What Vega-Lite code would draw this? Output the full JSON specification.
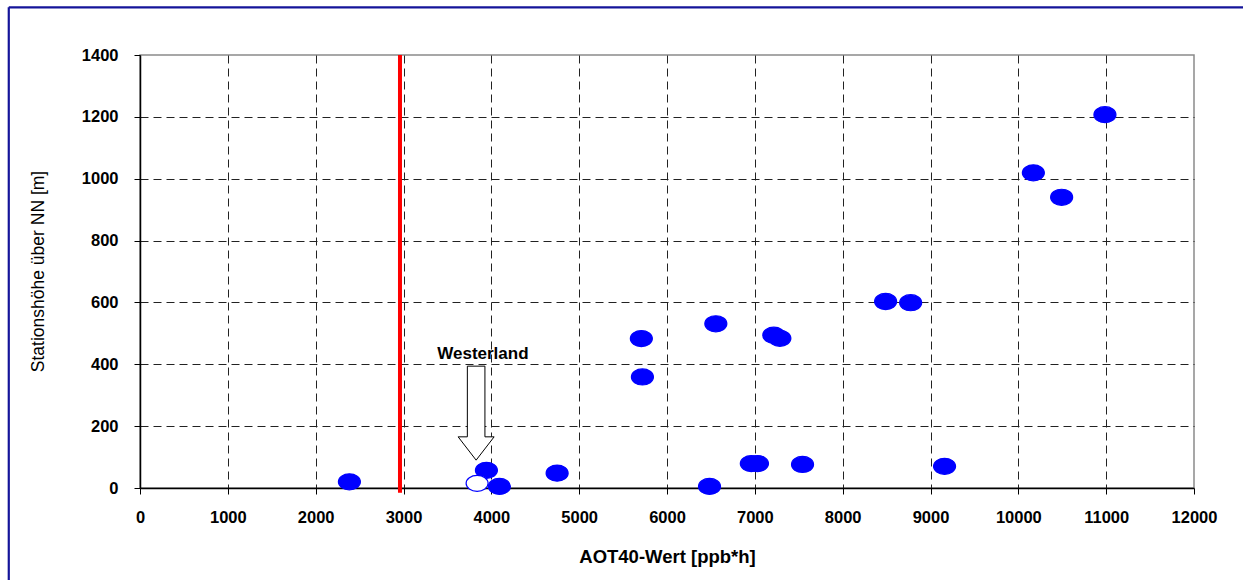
{
  "$schema": "https://vega.github.io/schema/vega-lite/v6.json",
  "width": 1054,
  "height": 433,
  "autosize": "none",
  "padding": {"left": 140, "top": 55, "right": 49, "bottom": 92},
  "background": "white",
  "config": {
    "view": {"stroke": "#8a8a8a", "strokeWidth": 1.5},
    "axis": {
      "labelFont": "Liberation Sans",
      "labelFontWeight": "bold",
      "labelFontSize": 16.5,
      "labelColor": "#000000",
      "titleFont": "Liberation Sans",
      "titleColor": "#000000",
      "domainColor": "#000000",
      "domainWidth": 1.5,
      "tickColor": "#000000",
      "tickSize": 6,
      "tickWidth": 1,
      "gridColor": "#222222",
      "gridDash": [8, 5],
      "gridWidth": 1
    }
  },
  "layer": [
    {
      "data": {"values": [{"x": -1494, "y": -1000, "y2": 1554}]},
      "mark": {"type": "rule", "color": "#14149a", "strokeWidth": 2.2},
      "encoding": {
        "x": {"field": "x", "type": "quantitative",
              "scale": {"domain": [0, 12000], "nice": false, "zero": false},
              "axis": {
                "values": [0, 1000, 2000, 3000, 4000, 5000, 6000, 7000, 8000, 9000, 10000, 11000, 12000],
                "format": "d",
                "title": "AOT40-Wert [ppb*h]",
                "titleFontSize": 18.5,
                "titleFontWeight": "bold",
                "titleBaseline": "middle",
                "titleY": 68,
                "labelPadding": 15,
                "labelFlush": false,
                "grid": true,
                "gridOpacity": {"condition": {"test": "datum.value == 12000 || datum.value == 0", "value": 0}, "value": 1}
              }},
        "y": {"field": "y", "type": "quantitative",
              "scale": {"domain": [0, 1400], "nice": false, "zero": false},
              "axis": {
                "values": [0, 200, 400, 600, 800, 1000, 1200, 1400],
                "format": "d",
                "title": "Stationshöhe über NN [m]",
                "titleFontSize": 17.5,
                "titleFontWeight": "normal",
                "titleAngle": -90,
                "titleBaseline": "middle",
                "titleAlign": "center",
                "titleX": -102,
                "titleY": 216,
                "labelPadding": 16,
                "labelFlush": false,
                "grid": true,
                "gridOpacity": {"condition": {"test": "datum.value == 1400 || datum.value == 0", "value": 0}, "value": 1}
              }},
        "y2": {"field": "y2"}
      }
    },
    {
      "data": {"values": [{"x": -1494, "x2": 14000, "y": 1554}]},
      "mark": {"type": "rule", "color": "#14149a", "strokeWidth": 2.2},
      "encoding": {
        "x": {"field": "x", "type": "quantitative"},
        "x2": {"field": "x2"},
        "y": {"field": "y", "type": "quantitative"}
      }
    },
    {
      "data": {"values": [{"x": 2960, "y": -15, "y2": 1400}]},
      "mark": {"type": "rule", "color": "#ff0000", "strokeWidth": 4},
      "encoding": {
        "x": {"field": "x", "type": "quantitative"},
        "y": {"field": "y", "type": "quantitative"},
        "y2": {"field": "y2"}
      }
    },
    {
      "data": {"values": [
        {"x": 2384, "y": 20, "kind": "Station"},
        {"x": 3944, "y": 57, "kind": "Station"},
        {"x": 3838, "y": 15, "kind": "Westerland"},
        {"x": 4092, "y": 5, "kind": "Station"},
        {"x": 4749, "y": 48, "kind": "Station"},
        {"x": 5708, "y": 483, "kind": "Station"},
        {"x": 5720, "y": 359, "kind": "Station"},
        {"x": 6556, "y": 531, "kind": "Station"},
        {"x": 6484, "y": 5, "kind": "Station"},
        {"x": 7216, "y": 494, "kind": "Station"},
        {"x": 7285, "y": 484, "kind": "Station"},
        {"x": 6960, "y": 79, "kind": "Station"},
        {"x": 7030, "y": 79, "kind": "Station"},
        {"x": 7543, "y": 76, "kind": "Station"},
        {"x": 8489, "y": 603, "kind": "Station"},
        {"x": 8774, "y": 599, "kind": "Station"},
        {"x": 9160, "y": 70, "kind": "Station"},
        {"x": 10171, "y": 1019, "kind": "Station"},
        {"x": 10493, "y": 940, "kind": "Station"},
        {"x": 10986, "y": 1207, "kind": "Station"}
      ]},
      "mark": {"type": "point", "filled": true, "opacity": 1, "stroke": "#0000ff", "strokeWidth": 1.2,
               "shape": "M -1 0 A 1 0.73 0 1 1 1 0 A 1 0.73 0 1 1 -1 0 Z", "size": 484},
      "encoding": {
        "x": {"field": "x", "type": "quantitative"},
        "y": {"field": "y", "type": "quantitative"},
        "fill": {"field": "kind", "type": "nominal",
                 "scale": {"domain": ["Station", "Westerland"], "range": ["#0000ff", "#ffffff"]},
                 "legend": null}
      }
    },
    {
      "data": {"values": [{"x": 3827, "y": 242}]},
      "mark": {"type": "point", "filled": true, "opacity": 1, "fill": "#ffffff", "stroke": "#000000", "strokeWidth": 1,
               "shape": "M -0.187 -1 L 0.187 -1 L 0.187 0.504 L 0.383 0.504 L 0 1 L -0.383 0.504 L -0.187 0.504 Z",
               "size": 8836},
      "encoding": {
        "x": {"field": "x", "type": "quantitative"},
        "y": {"field": "y", "type": "quantitative"}
      }
    },
    {
      "data": {"values": [{"x": 3904, "y": 432, "label": "Westerland"}]},
      "mark": {"type": "text", "font": "Liberation Sans", "fontWeight": "bold", "fontSize": 17,
               "align": "center", "baseline": "middle", "color": "#000000"},
      "encoding": {
        "x": {"field": "x", "type": "quantitative"},
        "y": {"field": "y", "type": "quantitative"},
        "text": {"field": "label"}
      }
    }
  ]
}
